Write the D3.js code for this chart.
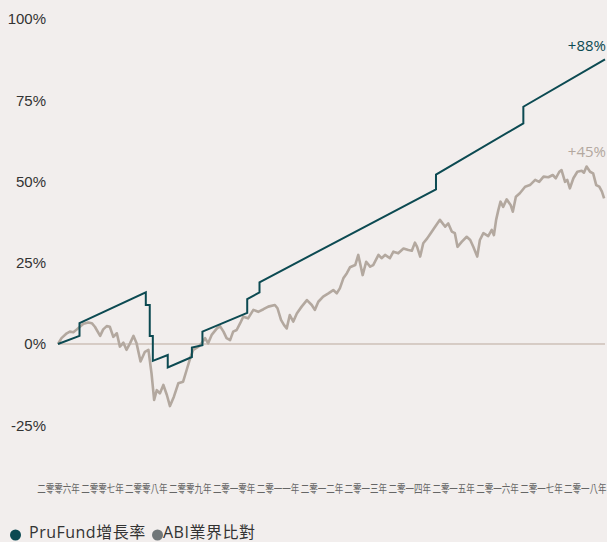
<!DOCTYPE html>
<html lang="zh-Hant">
<head>
<meta charset="utf-8">
<title>PruFund vs ABI</title>
<script src="https://d3js.org/d3.v7.min.js"></script>
<style>
  html, body { margin: 0; padding: 0; background: #f2eeed; }
  body { font-family: "Open Sans", "Noto Sans CJK TC", sans-serif; }
  svg { display: block; background: #f2eeed; }
  .yax text { font-size: 15px; fill: #333; }
  .xax text { font-size: 8.5px; fill: #666; font-family: "Noto Sans CJK TC", sans-serif; }
</style>
</head>
<body>
<svg id="chart" width="607" height="542"></svg>
<script>
// 年份（小數年）與數值（%）
var years = [2006,2007,2008,2009,2010,2011,2012,2013,2014,2015,2016,2017,2018];
var yearLabels = ["二零零六年","二零零七年","二零零八年","二零零九年","二零一零年","二零一一年",
  "二零一二年","二零一三年","二零一四年","二零一五年","二零一六年","二零一七年","二零一八年"];
var yTicks = [100, 75, 50, 25, 0, -25];

// PruFund 平滑後的增長率（階梯式調整）
var pruT = [2006.00,2006.49,2006.49,2008.00,2008.00,2008.09,2008.09,2008.16,2008.16,2008.50,2008.50,
  2009.05,2009.05,2009.29,2009.29,2010.31,2010.31,2010.59,2010.59,2014.61,2014.61,2016.60,2016.60,2018.46];
var pruV = [0,2.5,6.4,15.9,12.0,12.0,2.5,2.5,-5.2,-3.4,-7.2,
  -4.0,-1.1,-0.4,3.8,9.6,13.8,15.9,19.0,47.6,52.1,67.9,73.0,87.6];

// ABI 業界比對
var abiT = [2006.00,2006.08,2006.20,2006.27,2006.35,2006.43,2006.50,2006.58,2006.69,2006.77,2006.84,2006.96,
  2007.03,2007.11,2007.18,2007.26,2007.34,2007.41,2007.49,2007.56,2007.64,2007.72,2007.79,2007.88,2007.98,
  2008.06,2008.13,2008.19,2008.25,2008.32,2008.40,2008.48,2008.55,2008.64,2008.74,2008.85,2008.93,
  2009.01,2009.08,2009.20,2009.27,2009.35,2009.42,2009.50,2009.62,2009.69,2009.77,2009.84,2009.92,2009.99,
  2010.07,2010.15,2010.22,2010.33,2010.45,2010.56,2010.68,2010.79,2010.94,
  2011.00,2011.08,2011.15,2011.21,2011.28,2011.36,2011.44,2011.55,2011.67,2011.78,2011.85,2011.93,
  2012.04,2012.16,2012.27,2012.35,2012.42,2012.50,2012.58,2012.65,2012.77,2012.84,2012.94,
  2013.02,2013.11,2013.18,2013.30,2013.37,2013.45,2013.56,2013.64,2013.75,2013.87,2013.98,
  2014.06,2014.13,2014.18,2014.25,2014.32,2014.41,2014.49,2014.59,2014.70,2014.82,2014.89,2014.97,
  2015.04,2015.10,2015.20,2015.31,2015.39,2015.46,2015.55,2015.61,2015.69,2015.80,2015.88,2015.93,2015.98,
  2016.03,2016.08,2016.14,2016.22,2016.31,2016.36,2016.43,2016.52,2016.64,2016.75,2016.87,2016.96,
  2017.06,2017.17,2017.27,2017.34,2017.42,2017.47,2017.55,2017.60,2017.66,2017.74,2017.83,2017.93,2017.98,
  2018.04,2018.12,2018.19,2018.26,2018.33,2018.39,2018.44];
var abiV = [0,1.8,3.3,3.8,3.6,4.5,5.3,6.2,6.6,6.4,5.3,2.5,
  4.5,5.5,5.3,2.2,3.3,-0.8,0.4,-1.8,0.2,2.5,0.2,-5.4,-2.4,
  -1.8,-9.0,-17.2,-14.2,-15.2,-12.6,-15.7,-19.1,-16.2,-12.1,-11.6,-8.0,
  -4.4,-1.8,-0.8,0.2,1.8,0.2,2.8,4.8,5.5,3.8,1.8,1.2,3.8,
  4.3,6.4,8.4,7.9,10.5,9.9,10.7,11.5,12.0,
  11.0,7.4,5.8,4.8,8.9,6.9,9.4,11.5,13.5,12.0,10.5,13.0,
  14.6,15.6,16.6,15.6,17.1,20.2,21.8,23.6,24.3,27.4,21.2,
  25.3,23.8,24.3,27.4,26.4,27.4,26.4,28.4,27.9,29.4,28.9,
  28.7,31.2,29.9,26.9,31.0,32.5,34.1,36.1,38.2,36.1,37.1,34.6,
  34.1,29.9,31.5,33.0,32.0,29.9,26.9,32.0,34.1,33.2,35.1,33.5,38.2,
  41.2,43.8,42.2,44.5,42.8,40.7,45.3,46.4,48.4,48.9,50.5,49.9,
  51.5,51.3,52.0,51.0,53.0,53.5,49.9,50.5,47.9,51.0,53.0,53.3,52.7,
  54.6,53.0,52.5,48.9,48.4,46.9,44.8];

var pruColor = "#0c4a52", abiColor = "#b3a89f", abiLegend = "#717779";

var svg = d3.select("#chart");
var x = d3.scaleLinear().domain([2006, 2018.46]).range([58, 605]);
var y = d3.scaleLinear().domain([-25, 100]).range([425.25, 19]);

// y軸
svg.append("g").attr("class", "yax")
  .attr("transform", "translate(46,0)")
  .call(d3.axisLeft(y).tickValues(yTicks).tickSize(0).tickPadding(0)
    .tickFormat(function(d){ return d + "%"; }))
  .call(function(g){ g.select(".domain").remove(); });

// x軸（年份）　字は縦長なので縦方向に伸ばす
var xax = svg.append("g").attr("class", "xax")
  .attr("transform", "translate(0,0)")
  .call(d3.axisBottom(x).tickValues(years).tickSize(0).tickPadding(0)
    .tickFormat(function(d, i){ return yearLabels[i]; }))
  .call(function(g){ g.select(".domain").remove(); });
xax.selectAll(".tick text")
  .attr("dy", null).attr("y", 0)
  .attr("transform", "translate(0,493) scale(1,1.4)");

// 零線
svg.append("line")
  .attr("x1", x(2006)).attr("x2", x(2018.46))
  .attr("y1", y(0)).attr("y2", y(0))
  .attr("stroke", "#bba99d").attr("stroke-width", 1);

var line = d3.line()
  .x(function(d){ return x(d[0]); })
  .y(function(d){ return y(d[1]); });

svg.append("path")
  .datum(d3.zip(abiT, abiV))
  .attr("d", line)
  .attr("fill", "none").attr("stroke", abiColor)
  .attr("stroke-width", 2.6).attr("stroke-linejoin", "round");

svg.append("path")
  .datum(d3.zip(pruT, pruV))
  .attr("d", line)
  .attr("fill", "none").attr("stroke", pruColor)
  .attr("stroke-width", 2);

// 終點標註
svg.append("text").attr("x", 606).attr("y", 51).attr("text-anchor", "end")
  .style("font-size", "15px").attr("fill", pruColor)
  .text("+" + Math.round(pruV[pruV.length - 1]) + "%");
svg.append("text").attr("x", 606).attr("y", 157).attr("text-anchor", "end")
  .style("font-size", "15px").attr("fill", abiColor)
  .text("+" + Math.round(abiV[abiV.length - 1]) + "%");

// 圖例
var legend = [
  {name: "PruFund增長率", color: pruColor, cx: 15.5, tx: 29},
  {name: "ABI業界比對", color: abiLegend, cx: 157.5, tx: 163}
];
var lg = svg.append("g").selectAll("g").data(legend).enter().append("g");
lg.append("circle").attr("cx", function(d){ return d.cx; }).attr("cy", 535)
  .attr("r", 5.5).attr("fill", function(d){ return d.color; });
lg.append("text").attr("x", function(d){ return d.tx; }).attr("y", 538)
  .style("font-size", "16px").attr("fill", "#333")
  .style("letter-spacing", "0.5px")
  .text(function(d){ return d.name; });
</script>
</body>
</html>
